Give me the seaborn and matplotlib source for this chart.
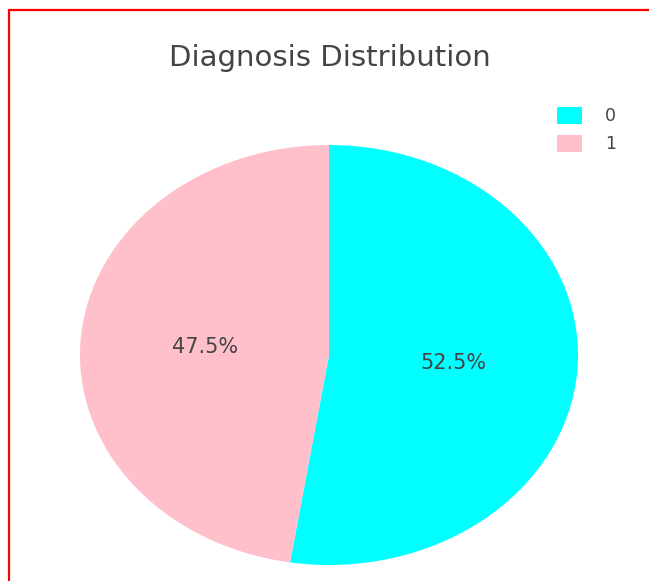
import matplotlib
matplotlib.use("Agg")
import matplotlib.pyplot as plt
from matplotlib.lines import Line2D
import seaborn as sns

# Diagnosis class shares (percent)
classes = ["0", "1"]
shares = [52.5, 47.5]
slice_colors = ["#00FFFF", "#FFC0CB"]

sns.set_theme(style="white")
plt.rcParams["font.family"] = ["DejaVu Sans"]

W, H = 649, 581
fig = plt.figure(figsize=(W / 100, H / 100), dpi=100)
fig.patch.set_facecolor("white")

# pie area (pixels from the top-left corner)
px_left, px_right, px_top, px_bottom = 80, 578, 145, 565
ax = fig.add_axes([px_left / W, 1 - px_bottom / H,
                   (px_right - px_left) / W, (px_bottom - px_top) / H])

wedges, _, autotexts = ax.pie(
    shares,
    labels=None,
    colors=slice_colors,
    startangle=90,
    counterclock=False,
    autopct=lambda p: f"{p:.1f}%",
    pctdistance=0.5,
    radius=1.0,
    wedgeprops=dict(linewidth=0),
    textprops=dict(color="#444444", fontsize=15),
)
ax.set_aspect("auto")
ax.set_xlim(-1, 1)
ax.set_ylim(-1, 1)
ax.axis("off")

fig.text(330 / W, 1 - 66.5 / H, "Diagnosis Distribution", ha="center", va="baseline",
         fontsize=21, color="#444444")

leg = fig.legend(wedges, classes, loc="upper left",
                 bbox_to_anchor=(545 / W, 1 - 95 / H), frameon=False,
                 fontsize=12.5, handlelength=1.45, handleheight=1.1,
                 handletextpad=1.3, labelspacing=0.55, borderpad=0.2)
for t in leg.get_texts():
    t.set_color("#444444")

# red frame along the top and left edges
fig.add_artist(Line2D([8.5 / W, 1], [1 - 9.5 / H, 1 - 9.5 / H],
                      transform=fig.transFigure, color="#FF0000", linewidth=1.6))
fig.add_artist(Line2D([8.5 / W, 8.5 / W], [0, 1 - 9.5 / H],
                      transform=fig.transFigure, color="#FF0000", linewidth=1.6))

fig.savefig("out.png", dpi=100, facecolor="white")
